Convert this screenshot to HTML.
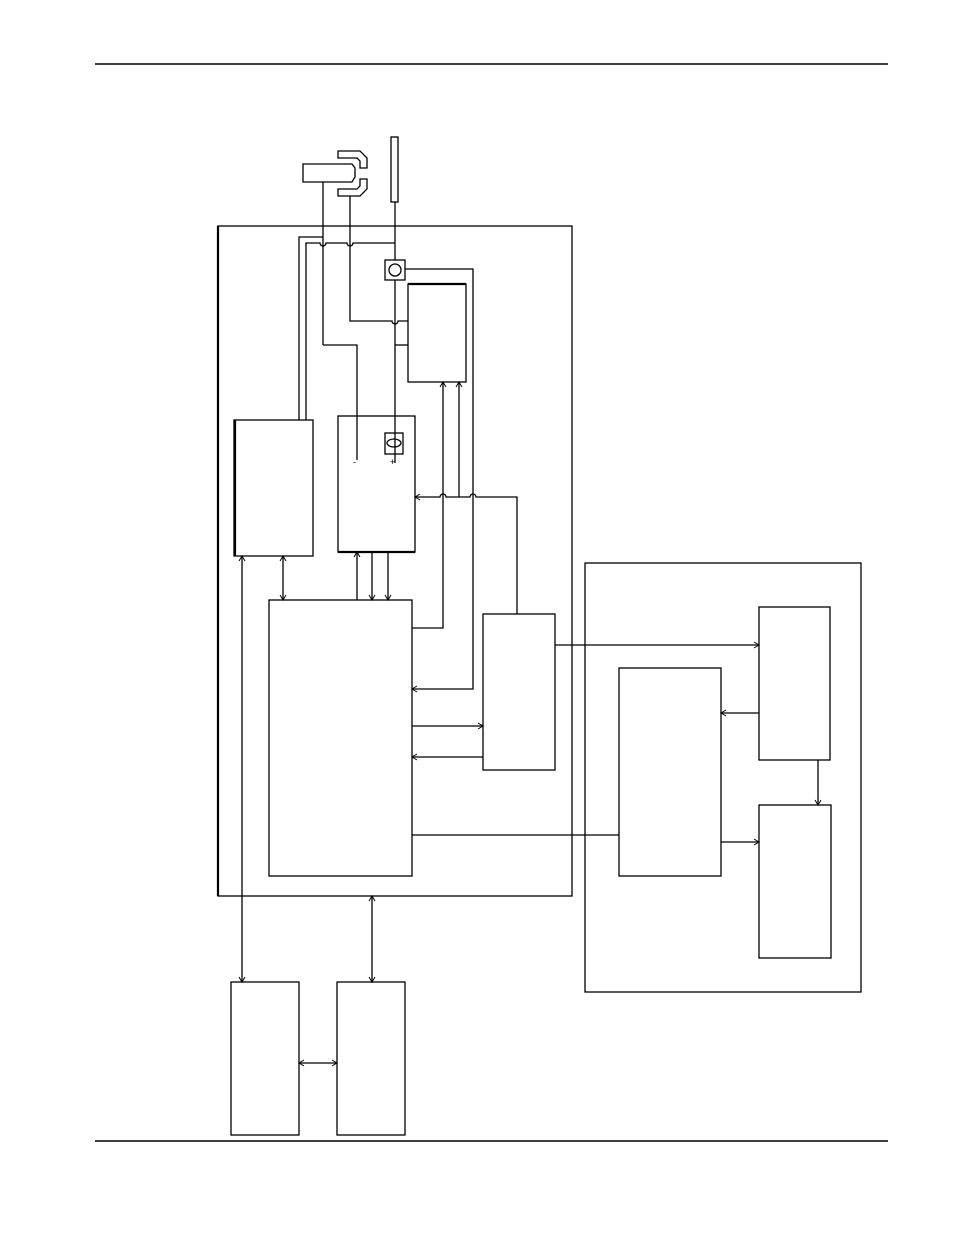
<!DOCTYPE html>
<html><head><meta charset="utf-8"><style>html,body{margin:0;padding:0;background:#fff}svg{display:block}</style></head>
<body>
<svg width="954" height="1235" viewBox="0 0 954 1235" xmlns="http://www.w3.org/2000/svg">
<defs>
<marker id="a" markerWidth="8" markerHeight="8" refX="6" refY="4" orient="auto-start-reverse" markerUnits="userSpaceOnUse">
<path d="M1,1 L6,4 L1,7" fill="none" stroke="#000" stroke-width="1"/>
</marker>
</defs>
<g fill="none" stroke="#000" stroke-width="1.3">
<line x1="95" y1="64" x2="888" y2="64" stroke-width="1.6"/>
<line x1="95" y1="1141" x2="888" y2="1141" stroke-width="1.6"/>
<!-- top devices -->
<path d="M303,164 H352 L355,168 V177 L352,182 H303 Z"/>
<path d="M338,151 H360 L367,158 V168 H360 V161 L357,158 H338 Z"/>
<path d="M338,196 H360 L367,189 V179 H360 V186 L357,189 H338 Z"/>
<rect x="391" y="137" width="7" height="65"/>
<!-- main box -->
<rect x="218" y="226" width="354" height="670"/>
<line x1="218" y1="226" x2="218" y2="896" stroke-width="2.2"/>
<!-- boxes -->
<rect x="234" y="420" width="79" height="136"/>
<line x1="235" y1="420" x2="235" y2="556" stroke-width="2.2"/>
<rect x="338" y="416" width="77" height="136"/>
<line x1="338" y1="552" x2="415" y2="552" stroke-width="2.2"/>
<rect x="408" y="284" width="58" height="98"/>
<line x1="408" y1="284" x2="466" y2="284" stroke-width="2.2"/>
<rect x="269" y="600" width="143" height="276"/>
<rect x="483" y="614" width="72" height="156"/>
<rect x="585" y="563" width="276" height="429"/>
<rect x="759" y="607" width="71" height="153"/>
<rect x="619" y="668" width="102" height="208"/>
<rect x="759" y="805" width="72" height="153"/>
<rect x="231" y="982" width="68" height="153"/>
<rect x="337" y="982" width="68" height="153"/>
<!-- wires top -->
<line x1="323" y1="182" x2="323" y2="345"/>
<path d="M323,345 H357 V460"/>
<path d="M350,196 V321 H392 a3,3 0 0 0 6,0 H408"/>
<line x1="395" y1="202" x2="395" y2="260"/>
<line x1="395" y1="280" x2="395" y2="463"/>
<line x1="395" y1="345" x2="408" y2="345"/>
<path d="M299,420 V237 H323"/>
<path d="M306,420 V243 H320 a3,3 0 0 0 6,0 H347 a3,3 0 0 0 6,0 H395"/>
<rect x="385" y="260" width="20" height="20"/>
<circle cx="395" cy="270" r="6"/>
<rect x="385" y="433" width="18" height="21"/>
<ellipse cx="394" cy="443" rx="7" ry="4"/>
<path d="M405,269 H473 V689 H412" marker-end="url(#a)"/>
<path d="M517,614 V497 H476 a3,3 0 0 0 -6,0 H446 a3,3 0 0 0 -6,0 H415" marker-end="url(#a)"/>
<line x1="459" y1="497" x2="459" y2="382" marker-end="url(#a)"/>
<path d="M412,628 H443 V382" marker-end="url(#a)"/>
<line x1="357" y1="600" x2="357" y2="552" marker-end="url(#a)"/>
<line x1="372" y1="552" x2="372" y2="600" marker-end="url(#a)"/>
<line x1="388" y1="552" x2="388" y2="600" marker-end="url(#a)"/>
<line x1="283" y1="556" x2="283" y2="600" marker-start="url(#a)" marker-end="url(#a)"/>
<line x1="242" y1="556" x2="242" y2="982" marker-start="url(#a)" marker-end="url(#a)"/>
<line x1="372" y1="896" x2="372" y2="982" marker-start="url(#a)" marker-end="url(#a)"/>
<line x1="299" y1="1063" x2="337" y2="1063" marker-start="url(#a)" marker-end="url(#a)"/>
<line x1="412" y1="726" x2="483" y2="726" marker-end="url(#a)"/>
<line x1="483" y1="757" x2="412" y2="757" marker-end="url(#a)"/>
<line x1="555" y1="645" x2="759" y2="645" marker-end="url(#a)"/>
<line x1="759" y1="713" x2="721" y2="713" marker-end="url(#a)"/>
<line x1="818" y1="760" x2="818" y2="805" marker-end="url(#a)"/>
<line x1="721" y1="842" x2="759" y2="842" marker-end="url(#a)"/>
<line x1="412" y1="835" x2="619" y2="835"/>
</g>
<g font-family="Liberation Sans, sans-serif" font-size="9" fill="#000">
<text x="353" y="465">-</text>
<text x="390" y="465">+</text>
</g>
</svg>
</body></html>
